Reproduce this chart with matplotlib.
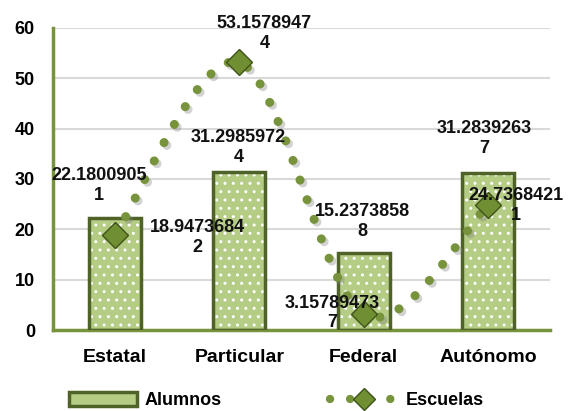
import numpy as np
import matplotlib
matplotlib.use("Agg")
import matplotlib.pyplot as plt
import matplotlib.patheffects as pe
from matplotlib.patches import Patch
from matplotlib.lines import Line2D

plt.rcParams['font.family'] = ['Liberation Sans', 'DejaVu Sans']
plt.rcParams['font.weight'] = 'bold'

categorias = ['Estatal', 'Particular', 'Federal', 'Autónomo']
alumnos = [22.18009051, 31.29859724, 15.23738588, 31.28392637]
escuelas = [18.94736842, 53.15789474, 3.157894737, 24.73684211]
alumnos_txt = ['22.1800905\n1', '31.2985972\n4', '15.2373858\n8', '31.2839263\n7']
escuelas_txt = ['18.9473684\n2', '53.1578947\n4', '3.15789473\n7', '24.7368421\n1']

# label offsets in pixels (centre of the two-line block relative to the point)
off_alumnos = [(-16, 33), (-1, 25), (-1, 32), (-4, 34)]
off_escuelas = [(82, -3), (25, 29), (-31, 1), (28, 0)]

fig = plt.figure(figsize=(5.76, 4.11), dpi=100)
ax = fig.add_axes([0.092, 0.197, 0.863, 0.735])

x = np.arange(len(categorias))
ancho = 0.42

# bars: light green with white dotted texture and dark olive border
ax.bar(x, alumnos, ancho, color='#b5cc85', edgecolor='white', hatch='..', linewidth=0, zorder=2)
ax.bar(x, alumnos, ancho, fill=False, edgecolor='#4f6228', linewidth=2.5, zorder=3)

# smooth curve through the points (Catmull-Rom, drawing only)
def suavizar(xs, ys, n=60):
    p = np.column_stack([xs, ys]).astype(float)
    p = np.vstack([p[0], p, p[-1]])
    out = []
    for i in range(1, len(p) - 2):
        p0, p1, p2, p3 = p[i - 1], p[i], p[i + 1], p[i + 2]
        t = np.linspace(0, 1, n)[:, None]
        seg = 0.5 * ((2 * p1) + (-p0 + p2) * t + (2 * p0 - 5 * p1 + 4 * p2 - p3) * t ** 2
                     + (-p0 + 3 * p1 - 3 * p2 + p3) * t ** 3)
        out.append(seg)
    c = np.vstack(out)
    return c[:, 0], c[:, 1]

cx, cy = suavizar(x, escuelas)
ax.plot(cx, cy, color='#77933c', linewidth=6.5, linestyle=(0, (0.01, 2.3)),
        dash_capstyle='round', solid_capstyle='round', zorder=4,
        path_effects=[pe.SimpleLineShadow(offset=(2, -2), shadow_color='gray', alpha=0.35), pe.Normal()])
ax.plot(x, escuelas, linestyle='none', marker='D', markersize=13,
        markerfacecolor='#6f8f32', markeredgecolor='#3f5219', markeredgewidth=1, zorder=5)

for i in range(len(x)):
    ax.annotate(alumnos_txt[i], (x[i], alumnos[i]), xytext=off_alumnos[i], textcoords='offset pixels',
                ha='center', va='center', fontsize=13, fontweight='bold', color='#111111', zorder=6)
    ax.annotate(escuelas_txt[i], (x[i], escuelas[i]), xytext=off_escuelas[i], textcoords='offset pixels',
                ha='center', va='center', fontsize=13, fontweight='bold', color='#111111', zorder=6)

ax.set_xlim(-0.5, 3.5)
ax.set_ylim(0, 60)
ax.set_yticks(range(0, 61, 10))
ax.set_xticks(x)
ax.set_xticklabels(categorias, fontsize=14, fontweight='bold')
ax.tick_params(axis='y', labelsize=13, pad=13, length=0)
ax.tick_params(axis='x', pad=14, length=0)
ax.grid(axis='y', color='#d9d9d9', linewidth=1.5, zorder=0)
ax.set_axisbelow(True)
for s in ['top', 'right']:
    ax.spines[s].set_visible(False)
for s in ['left', 'bottom']:
    ax.spines[s].set_color('#77933c')
    ax.spines[s].set_linewidth(2.5)

h1 = Patch(facecolor='#b5cc85', edgecolor='#4f6228', linewidth=2.5)
h2 = Line2D([0], [1], color='#77933c', linewidth=6, linestyle=(0, (0.01, 2.4)), dash_capstyle='round',
            marker='D', markersize=11, markerfacecolor='#6f8f32', markeredgecolor='#3f5219')
fig.legend([h1, h2], ['Alumnos', 'Escuelas'], loc='center', bbox_to_anchor=(0.48, 0.025), ncol=2,
           frameon=False, fontsize=13, handlelength=3.8, handleheight=0.8, columnspacing=6.0,
           handletextpad=0.4)

fig.savefig('out.png', dpi=100)
